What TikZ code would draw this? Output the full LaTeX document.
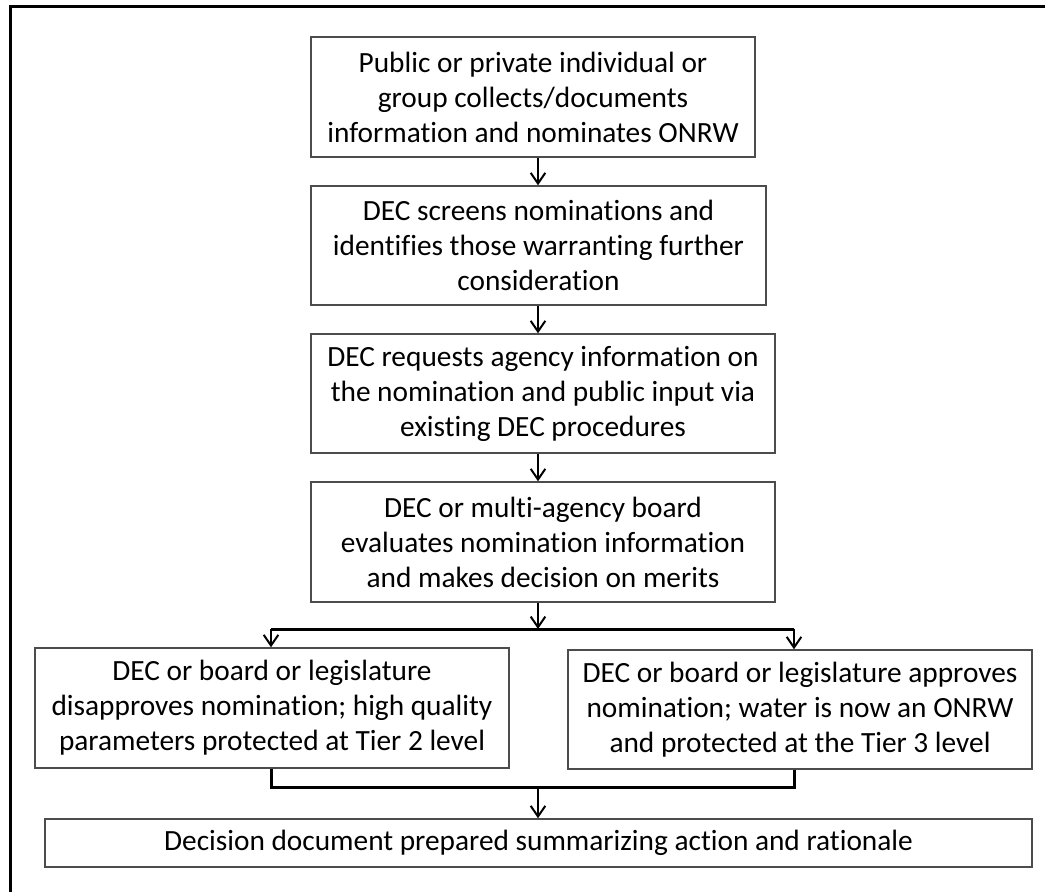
\documentclass[tikz,border=0pt]{standalone}
\usepackage{fontspec}
\setmainfont{Carlito}[Ligatures=NoCommon]
\usetikzlibrary{positioning,arrows.meta,calc}

\begin{document}
\begin{tikzpicture}[
  x=0.75pt, y=-0.75pt,
  box/.style={draw=black!70, line width=1.1pt, align=center, inner sep=2pt,
    font=\fontsize{22}{26.3}\selectfont},
  arr/.style={line width=1.5pt, -{Straight Barb[length=8pt, width=11pt]}},
  bus/.style={line width=2.25pt}
]
\useasboundingbox (0,0) rectangle (1045,892);

% Frame
\draw[line width=2.25pt] (10.5,892) -- (10.5,7) -- (1045,7);

% Main chain
\node[box, minimum width=333pt, minimum height=90pt] (nominate) at (533,97)
  {Public or private individual or\\group collects/documents\\information and nominates ONRW};
\node[box, minimum width=341.25pt, minimum height=89.25pt] (screen) at (538.5,245.5)
  {DEC screens nominations and\\identifies those warranting further\\consideration};
\node[box, minimum width=348pt, minimum height=89.25pt] (request) at (543,393.5)
  {DEC requests agency information on\\the nomination and public input via\\existing DEC procedures};
\node[box, minimum width=348pt, minimum height=90pt] (evaluate) at (543,542)
  {DEC or multi-agency board\\evaluates nomination information\\and makes decision on merits};

% Outcomes
\node[box, minimum width=355.5pt, minimum height=90pt] (disapprove) at (272,708)
  {DEC or board or legislature\\disapproves nomination; high quality\\parameters protected at Tier 2 level};
\node[box, minimum width=348pt, minimum height=89.25pt] (approve) at (800,709.5)
  {DEC or board or legislature approves\\nomination; water is now an ONRW\\and protected at the Tier 3 level};
\node[box, minimum width=740.25pt, minimum height=36pt] (decision) at (538.5,843)
  {Decision document prepared summarizing action and rationale};

% Axis and branch points
\coordinate (axis) at (538,0);
\coordinate (split) at (538,629);
\coordinate (splitL) at (271,629);
\coordinate (splitR) at (794,629);
\coordinate (merge) at (538,787);
\coordinate (mergeL) at (271,787);
\coordinate (mergeR) at (794,787);

% Arrows
\draw[arr] (nominate.south -| axis) -- (screen.north -| axis);
\draw[arr] (screen.south -| axis) -- (request.north -| axis);
\draw[arr] (request.south -| axis) -- (evaluate.north -| axis);
\draw[arr] (evaluate.south -| axis) -- (split);
\draw[bus] (splitL) -- (splitR);
\draw[arr] (splitL) -- (disapprove.north -| splitL);
\draw[arr] (splitR) -- (approve.north -| splitR);
\draw[bus] (disapprove.south -| mergeL) -- (mergeL) -- (mergeR) -- (approve.south -| mergeR);
\draw[arr] (merge) -- (decision.north -| merge);

\end{tikzpicture}
\end{document}
